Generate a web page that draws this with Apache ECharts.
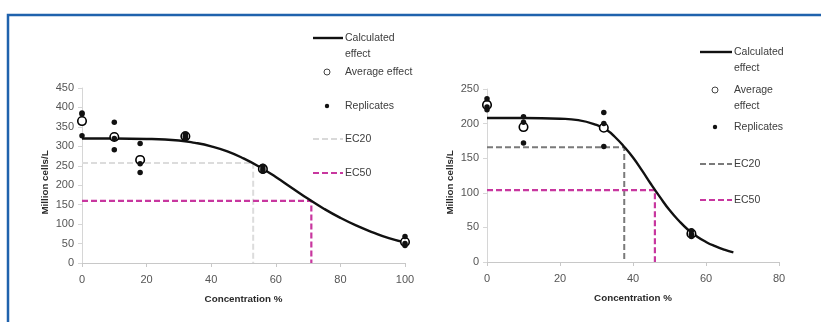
<!DOCTYPE html>
<html>
<head>
<meta charset="utf-8">
<script src="https://cdn.jsdelivr.net/npm/echarts@6/dist/echarts.min.js"></script>
<style>
  html, body { margin: 0; padding: 0; background: #fff; }
  #chart { width: 821px; height: 322px; }
</style>
</head>
<body>
<div id="chart"></div>
<script>
// ---- Test 1 (left panel) ----
const leftConc = [0, 10, 18, 32, 56, 100];
const leftReplicates = [
  [386, 383, 327],
  [362, 320, 291],
  [307, 255, 233],
  [332, 326, 321],
  [249, 242, 236],
  [68, 50, 45]
];
const leftAverage = [365, 324, 265, 326, 242, 54];
const leftCurveX = [0, 10, 20, 30, 35, 40, 45, 50, 55, 60, 65, 70, 75, 80, 85, 90, 95, 100];
const leftCurveY = [320, 320, 319, 315, 309, 300, 287, 269, 247, 221, 193, 165, 139, 116, 96, 79, 64, 53];
const leftEC20 = [53, 257];   // [concentration, cells]
const leftEC50 = [71, 160];

// ---- Test 2 (right panel) ----
const rightConc = [0, 10, 32, 56];
const rightReplicates = [
  [236, 224, 220],
  [210, 202, 172],
  [216, 200, 167],
  [45, 40, 37]
];
const rightAverage = [227, 195, 194, 41];
const rightCurveX = [0, 10, 20, 25, 30, 33, 35, 37.5, 40, 42.5, 45, 47.5, 50, 52.5, 55, 57.5, 60, 62.5, 65, 67.5];
const rightCurveY = [208, 208, 207, 205, 198, 190, 181, 167, 151, 132, 112, 93, 75, 60, 47, 37, 29, 22.8, 17.8, 13.8];
const rightEC20 = [37.6, 166];
const rightEC50 = [46, 104];

// ---- Axis ticks ----
const leftXTicks = { min: 0, max: 100, interval: 20 };
const leftYTicks = { min: 0, max: 450, interval: 50 };
const rightXTicks = { min: 0, max: 80, interval: 20 };
const rightYTicks = { min: 0, max: 250, interval: 50 };

const FONT = "'Liberation Sans', Arial, sans-serif";
const MAGENTA = '#c8379f';

const pairs = (xs, ys) => xs.map((x, i) => [x, ys[i]]);
const replicatePoints = (conc, reps) => {
  const out = [];
  conc.forEach((c, i) => reps[i].forEach(v => out.push([c, v])));
  return out;
};
const ecPath = ec => [[0, ec[1]], [ec[0], ec[1]], [ec[0], 0]];

function xAxisFor(idx, t) {
  return {
    type: 'value', gridIndex: idx, min: t.min, max: t.max, interval: t.interval,
    name: 'Concentration %', nameLocation: 'middle', nameGap: 31,
    nameTextStyle: { fontFamily: FONT, fontWeight: 'bold', fontSize: 9.8, color: '#2a2a2a' },
    axisLine: { show: true, lineStyle: { color: '#c8c8c8', width: 1 } },
    axisTick: { show: true, length: 4, lineStyle: { color: '#c8c8c8' } },
    axisLabel: { fontFamily: FONT, fontSize: 11, color: '#555', margin: 11 },
    splitLine: { show: false }
  };
}
function yAxisFor(idx, t) {
  return {
    type: 'value', gridIndex: idx, min: t.min, max: t.max, interval: t.interval,
    name: 'Million cells/L', nameLocation: 'middle', nameGap: 32,
    nameTextStyle: { fontFamily: FONT, fontWeight: 'bold', fontSize: 9.8, color: '#2a2a2a',
      padding: [0, 14, 0, 0] },
    axisLine: { show: true, lineStyle: { color: '#d6d6d6', width: 1 } },
    axisTick: { show: true, length: 4, lineStyle: { color: '#d6d6d6' } },
    axisLabel: { fontFamily: FONT, fontSize: 11, color: '#555', margin: 8 },
    splitLine: { show: false }
  };
}

function seriesFor(idx, conc, reps, avg, cx, cy, ec20, ec50, ec20Color) {
  return [
    { type: 'line', xAxisIndex: idx, yAxisIndex: idx, data: ecPath(ec20), symbol: 'none',
      lineStyle: { color: ec20Color, width: 2, type: [6, 3] }, z: 2 },
    { type: 'line', xAxisIndex: idx, yAxisIndex: idx, data: ecPath(ec50), symbol: 'none',
      lineStyle: { color: MAGENTA, width: 2.2, type: [6, 3] }, z: 2 },
    { type: 'line', xAxisIndex: idx, yAxisIndex: idx, data: pairs(cx, cy), symbol: 'none',
      smooth: 0.5, lineStyle: { color: '#111', width: 2.4 }, z: 3 },
    { type: 'scatter', xAxisIndex: idx, yAxisIndex: idx, data: pairs(conc, avg),
      symbol: 'circle', symbolSize: 8.5,
      itemStyle: { color: '#fff', borderColor: '#000', borderWidth: 1.6, opacity: 1 }, z: 4 },
    { type: 'scatter', xAxisIndex: idx, yAxisIndex: idx, data: replicatePoints(conc, reps),
      symbol: 'circle', symbolSize: 5.5, itemStyle: { color: '#111', opacity: 1 }, z: 5 }
  ];
}

// Legend blocks drawn as graphics beside each panel
function legendBlock(x0, x1, tx, rows, ec20Color) {
  const txt = (t, y) => ({ type: 'text', x: tx, y: y, style: {
    text: t, fontFamily: FONT, fontSize: 10.5, fill: '#3c3c3c', verticalAlign: 'middle' } });
  const mid = (x0 + x1) / 2 - 1;
  const g = [];
  g.push({ type: 'line', shape: { x1: x0, y1: rows.calc, x2: x1, y2: rows.calc },
    style: { stroke: '#111', lineWidth: 2.4 } });
  rows.calcText.forEach(([t, y]) => g.push(txt(t, y)));
  g.push({ type: 'circle', shape: { cx: mid, cy: rows.avg, r: 3 },
    style: { fill: '#fff', stroke: '#444', lineWidth: 1 } });
  rows.avgText.forEach(([t, y]) => g.push(txt(t, y)));
  g.push({ type: 'circle', shape: { cx: mid, cy: rows.rep, r: 2.2 }, style: { fill: '#111' } });
  g.push(txt('Replicates', rows.rep));
  g.push({ type: 'line', shape: { x1: x0, y1: rows.ec20, x2: x1, y2: rows.ec20 },
    style: { stroke: ec20Color, lineWidth: 2, lineDash: [6, 3] } });
  g.push(txt('EC20', rows.ec20));
  g.push({ type: 'line', shape: { x1: x0, y1: rows.ec50, x2: x1, y2: rows.ec50 },
    style: { stroke: MAGENTA, lineWidth: 2.2, lineDash: [6, 3] } });
  g.push(txt('EC50', rows.ec50));
  return g;
}

const graphics = [
  { type: 'polyline', shape: { points: [[8, 322], [8, 15], [821, 15]] },
    style: { stroke: '#1f62ad', lineWidth: 2.5, fill: null } },
  ...legendBlock(313, 343, 345, {
    calc: 38, calcText: [['Calculated', 38], ['effect', 54]],
    avg: 72, avgText: [['Average effect', 72]],
    rep: 106, ec20: 139, ec50: 173 }, '#d9d9d9'),
  ...legendBlock(700, 732, 734, {
    calc: 52, calcText: [['Calculated', 52], ['effect', 68]],
    avg: 90, avgText: [['Average', 90], ['effect', 106]],
    rep: 127, ec20: 164, ec50: 200 }, '#7a7a7a')
];

const chart = echarts.init(document.getElementById('chart'), null, { renderer: 'canvas' });
chart.setOption({
  animation: false,
  backgroundColor: '#fff',
  grid: [
    { left: 82, right: 416, top: 88, bottom: 59 },
    { left: 487, right: 42, top: 89, bottom: 60 }
  ],
  xAxis: [xAxisFor(0, leftXTicks), xAxisFor(1, rightXTicks)],
  yAxis: [yAxisFor(0, leftYTicks), yAxisFor(1, rightYTicks)],
  series: [
    ...seriesFor(0, leftConc, leftReplicates, leftAverage, leftCurveX, leftCurveY, leftEC20, leftEC50, '#dcdcdc'),
    ...seriesFor(1, rightConc, rightReplicates, rightAverage, rightCurveX, rightCurveY, rightEC20, rightEC50, '#7a7a7a')
  ],
  graphic: graphics
});
</script>
</body>
</html>
